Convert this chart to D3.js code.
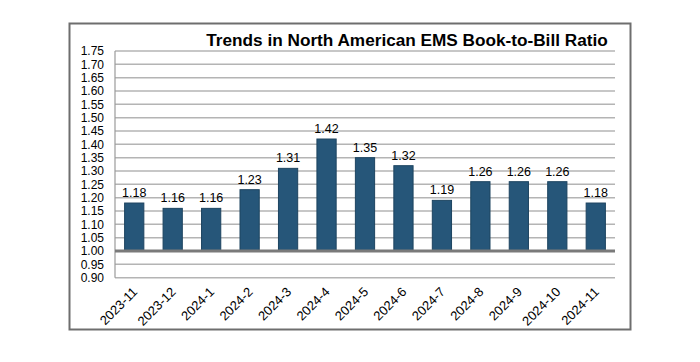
<!DOCTYPE html>
<html><head><meta charset="utf-8">
<script src="https://cdn.jsdelivr.net/npm/d3@7"></script>
<style>body{margin:0;background:#fff;}svg{display:block;font-family:"Liberation Sans",Arial,sans-serif;}</style>
</head><body><svg id="c" width="700" height="362"></svg>
<script>
const categories = ["2023-11","2023-12","2024-1","2024-2","2024-3","2024-4","2024-5","2024-6","2024-7","2024-8","2024-9","2024-10","2024-11"];
const values = [1.18,1.16,1.16,1.23,1.31,1.42,1.35,1.32,1.19,1.26,1.26,1.26,1.18];
const yTicks = [0.90,0.95,1.00,1.05,1.10,1.15,1.20,1.25,1.30,1.35,1.40,1.45,1.50,1.55,1.60,1.65,1.70,1.75];
const title = "Trends in North American EMS Book-to-Bill Ratio";

const svg = d3.select("#c");
const m = {l:115, r:615, t:51, b:277.7};
svg.append("rect").attr("x",69.5).attr("y",23.5).attr("width",561).attr("height",306)
  .attr("fill","#fff").attr("stroke","#6e6e6e").attr("stroke-width",2);

const x = d3.scaleBand().domain(categories).range([m.l,m.r]).paddingInner(0.5).paddingOuter(0.25);
const y = d3.scaleLinear().domain([0.9,1.75]).range([m.b,m.t]);

const g = svg.append("g");
g.selectAll("line.grid").data(yTicks).join("line").attr("class","grid")
  .attr("x1",m.l).attr("x2",m.r).attr("y1",d=>y(d)).attr("y2",d=>y(d))
  .attr("stroke","#b4b4b4").attr("stroke-width",1.5);
g.append("line").attr("x1",m.l).attr("x2",m.l).attr("y1",m.t).attr("y2",m.b).attr("stroke","#9a9a9a").attr("stroke-width",1.2);

const yAxis = d3.axisLeft(y).tickValues(yTicks).tickFormat(d3.format(".2f")).tickSize(0).tickPadding(11);
const ya = svg.append("g").attr("transform",`translate(${m.l},0)`).call(yAxis);
ya.select(".domain").remove();
ya.selectAll("text").attr("font-size",12).attr("fill","#000").attr("font-family","Liberation Sans, Arial");

g.selectAll("rect.bar").data(values).join("rect").attr("class","bar")
  .attr("x",(d,i)=>x(categories[i])).attr("width",x.bandwidth())
  .attr("y",d=>y(d)).attr("height",d=>y(1.0)-y(d))
  .attr("fill","#265679").attr("stroke","#1d4460").attr("stroke-width",1);

g.append("line").attr("x1",m.l).attr("x2",m.r).attr("y1",y(1.0)).attr("y2",y(1.0))
  .attr("stroke","#7a7a7a").attr("stroke-width",3);

g.selectAll("text.val").data(values).join("text").attr("class","val")
  .attr("x",(d,i)=>x(categories[i])+x.bandwidth()/2).attr("y",d=>y(d)-6)
  .attr("text-anchor","middle").attr("font-size",12.5).attr("fill","#000").text(d=>d3.format(".2f")(d));

const xAxis = d3.axisBottom(x).tickSize(0).tickPadding(0);
const xa = svg.append("g").attr("transform",`translate(0,${m.b})`).call(xAxis);
xa.select(".domain").remove();
xa.selectAll("text").attr("font-size",13).attr("fill","#000").attr("text-anchor","end")
  .attr("dy",null).attr("y",null)
  .attr("transform","translate(4,15) rotate(-45)");

svg.append("text").attr("x",407).attr("y",46).attr("text-anchor","middle")
  .attr("font-size",17.2).attr("font-weight","bold").attr("fill","#000").text(title);
</script></body></html>
